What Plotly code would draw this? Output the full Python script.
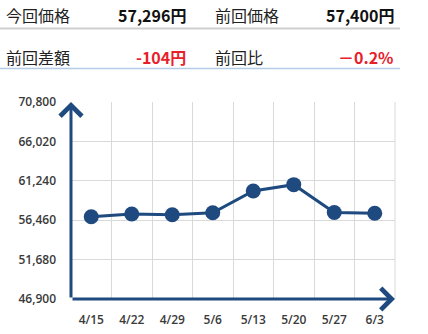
import plotly.graph_objects as go

dates = ["4/15", "4/22", "4/29", "5/6", "5/13", "5/20", "5/27", "6/3"]
prices = [56880, 57210, 57130, 57370, 60000, 60770, 57400, 57296]
y_ticks = [46900, 51680, 56460, 61240, 66020, 70800]

header_labels = ["今回価格", "前回価格", "前回差額", "前回比"]
header_values = ["57,296円", "57,400円", "-104円", "－0.2%"]

W, H = 428, 334
L, R, T, B = 71, 395, 102, 299
NAVY = "#1F4A7F"
RED = "#E8202A"

def px(x):
    return (x - L) / (R - L)

def py(y):
    return (B - y) / (B - T)

fig = go.Figure()
fig.add_trace(go.Scatter(
    x=dates, y=prices, mode="lines+markers",
    line=dict(color=NAVY, width=3),
    marker=dict(color=NAVY, size=15),
    hoverinfo="skip",
))

font_tick = dict(family="Open Sans", size=12, color="#3A3A3A", weight=600)

fig.update_layout(
    width=W, height=H,
    margin=dict(l=L, r=W - R, t=T, b=H - B, autoexpand=False),
    paper_bgcolor="white", plot_bgcolor="white",
    showlegend=False,
    xaxis=dict(
        type="category", range=[-0.5, 7.5], tickson="boundaries",
        showgrid=True, gridcolor="#D9D9D9", gridwidth=1,
        ticks="", tickfont=font_tick, ticklabelstandoff=12, automargin=False,
        showline=False, zeroline=False, fixedrange=True,
    ),
    yaxis=dict(
        range=[y_ticks[0], y_ticks[-1]], tickvals=y_ticks,
        tickformat=",", showgrid=True, gridcolor="#D9D9D9", gridwidth=1,
        ticks="", tickfont=font_tick, ticklabelstandoff=14, automargin=False,
        showline=False, zeroline=False, fixedrange=True,
    ),
)

# right border grid line
fig.add_shape(type="line", xref="paper", yref="paper", x0=1, x1=1, y0=0, y1=1,
              line=dict(color="#D9D9D9", width=1), layer="below")

# axes with arrows
fig.add_annotation(xref="paper", yref="paper", axref="pixel", ayref="pixel",
                   x=0, y=1.0, ax=0, ay=B - T, text="", showarrow=True,
                   arrowhead=4, arrowsize=1.4, arrowwidth=3, arrowcolor=NAVY)
fig.add_annotation(xref="paper", yref="paper", axref="pixel", ayref="pixel",
                   x=1.0, y=0, ax=-(R - L), ay=0, text="", showarrow=True,
                   arrowhead=4, arrowsize=1.4, arrowwidth=3, arrowcolor=NAVY)

# header table
hfont = dict(family="Noto Sans CJK JP", size=16, color="#222222")
rows_y = [15, 56.5]
label_x = [4, 213]
value_x = [188, 396]
for i in range(4):
    r, c = divmod(i, 2)
    fig.add_annotation(xref="paper", yref="paper", x=px(label_x[c]), y=py(rows_y[r]),
                       text=header_labels[i], showarrow=False, xanchor="left",
                       yanchor="middle", font=hfont)
    col = "#111111" if r == 0 else RED
    fig.add_annotation(xref="paper", yref="paper", x=px(value_x[c]), y=py(rows_y[r]),
                       text=header_values[i], showarrow=False, xanchor="right",
                       yanchor="middle",
                       font=dict(family="Noto Sans CJK JP", size=16, color=col, weight=700))

fig.add_shape(type="line", xref="paper", yref="paper", x0=px(0), x1=px(400),
              y0=py(28.5), y1=py(28.5), line=dict(color="#CFCFCF", width=2))
fig.add_shape(type="line", xref="paper", yref="paper", x0=px(0), x1=px(400),
              y0=py(68.5), y1=py(68.5), line=dict(color="#B5CCE6", width=1.5))

fig.write_html("out.html")
